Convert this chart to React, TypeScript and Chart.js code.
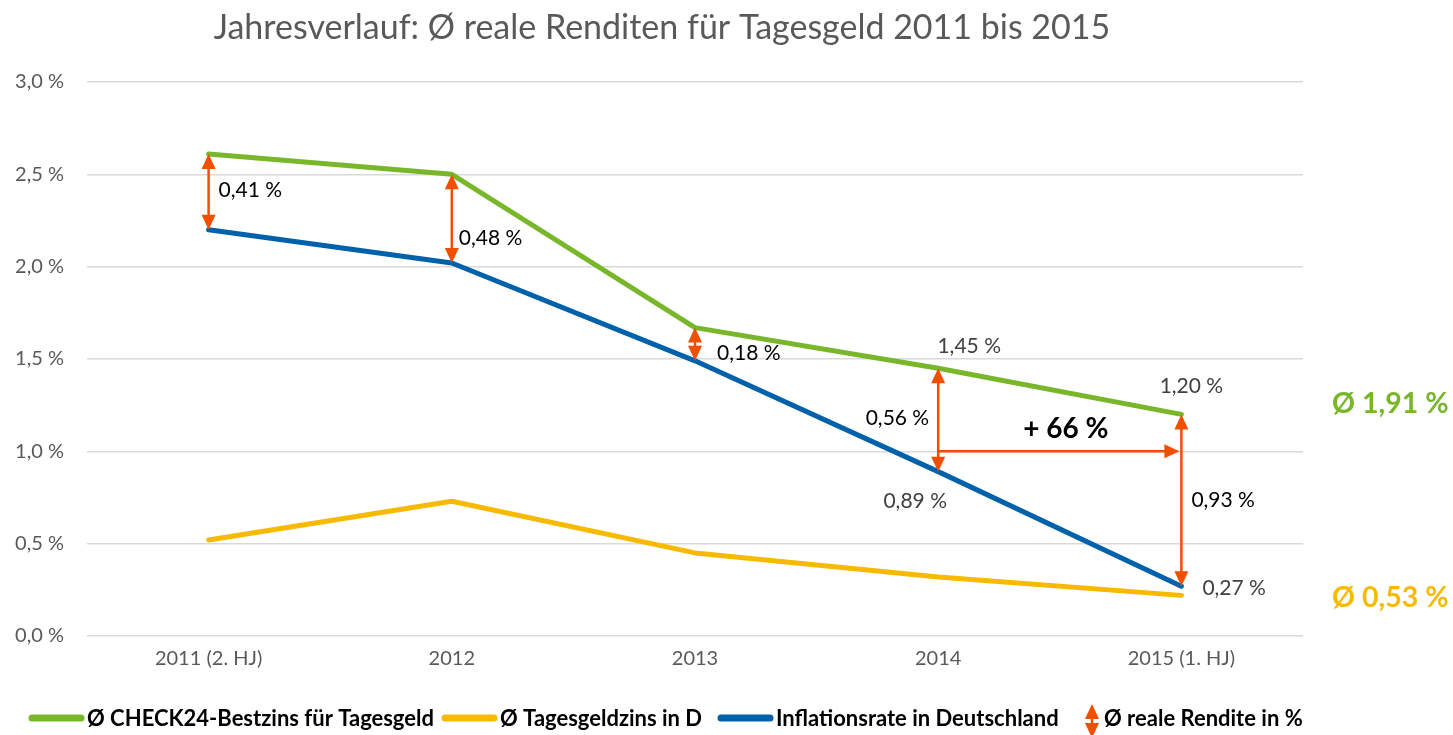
import React, { useEffect, useRef } from "react";
import { Chart, registerables } from "chart.js";

Chart.register(...registerables);

// ---------- data ----------
const categories = ["2011 (2. HJ)", "2012", "2013", "2014", "2015 (1. HJ)"];
const bestzins = [2.61, 2.5, 1.67, 1.45, 1.2];
const tagesgeldzins = [0.52, 0.73, 0.45, 0.32, 0.22];
const inflation = [2.2, 2.02, 1.49, 0.89, 0.27];
const realeRendite = ["0,41 %", "0,48 %", "0,18 %", "0,56 %", "0,93 %"];
const bestzinsLabels = ["", "", "", "1,45 %", "1,20 %"];
const inflationLabels = ["", "", "", "0,89 %", "0,27 %"];
const seriesNames = [
  "Ø CHECK24-Bestzins für Tagesgeld",
  "Ø Tagesgeldzins in D",
  "Inflationsrate in Deutschland",
];
const renditeName = "Ø reale Rendite in %";
const avgBestzins = "Ø 1,91 %";
const avgTagesgeld = "Ø 0,53 %";
const growthLabel = "+ 66 %";
const growthLevel = 1.0;
const growthFromIndex = 3;
const growthToIndex = 4;
const titleText = "Jahresverlauf: Ø reale Renditen für Tagesgeld 2011 bis 2015";
const yMin = 0;
const yMax = 3;
const yStep = 0.5;

// ---------- styles ----------
const GREEN = "#78B72A";
const YELLOW = "#F7BA00";
const BLUE = "#0061AB";
const ORANGE = "#F24E00";
const GRAY_TEXT = "#595959";
const DARK_TEXT = "#404040";
const FONT = "Lato, 'Open Sans', sans-serif";

// label placements for arrows: [dx, dy, align]
const ARROW_LABEL_POS: [number, number, CanvasTextAlign][] = [
  [10, -2, "left"],
  [7, 20, "left"],
  [22, 9, "left"],
  [-9, -2, "right"],
  [10, 0, "left"],
];
// legend layout (x of each line start, and x of the arrow symbol)
const LEGEND_LINE_X = [29, 442, 718];
const LEGEND_ARROW_X = 1092;

function arrowHead(ctx: CanvasRenderingContext2D, tx: number, ty: number, ux: number, uy: number) {
  const L = 15;
  const W = 7;
  const bx = tx - ux * L;
  const by = ty - uy * L;
  const px = -uy;
  const py = ux;
  ctx.beginPath();
  ctx.moveTo(tx, ty);
  ctx.lineTo(bx + px * W, by + py * W);
  ctx.lineTo(bx - px * W, by - py * W);
  ctx.closePath();
  ctx.fill();
}

function drawArrow(
  ctx: CanvasRenderingContext2D,
  x1: number,
  y1: number,
  x2: number,
  y2: number,
  startHead: boolean,
  endHead: boolean
) {
  const dx = x2 - x1;
  const dy = y2 - y1;
  const len = Math.hypot(dx, dy) || 1;
  const ux = dx / len;
  const uy = dy / len;
  const L = 13;
  ctx.strokeStyle = ORANGE;
  ctx.fillStyle = ORANGE;
  ctx.lineWidth = 2.5;
  const sx = startHead ? x1 + ux * L : x1;
  const sy = startHead ? y1 + uy * L : y1;
  const ex = endHead ? x2 - ux * L : x2;
  const ey = endHead ? y2 - uy * L : y2;
  ctx.beginPath();
  ctx.moveTo(sx, sy);
  ctx.lineTo(ex, ey);
  ctx.stroke();
  if (startHead) arrowHead(ctx, x1, y1, -ux, -uy);
  if (endHead) arrowHead(ctx, x2, y2, ux, uy);
}

const overlayPlugin = {
  id: "overlay",
  afterDatasetsDraw(chart: any) {
    const ctx: CanvasRenderingContext2D = chart.ctx;
    const xs = chart.scales.x;
    const ys = chart.scales.y;
    ctx.save();

    // vertical arrows between Bestzins and Inflation
    categories.forEach((_, i) => {
      const x = xs.getPixelForValue(i);
      const yTop = ys.getPixelForValue(bestzins[i]);
      const yBot = ys.getPixelForValue(inflation[i]);
      drawArrow(ctx, x, yTop, x, yBot, true, true);
      const [dx, dy, align] = ARROW_LABEL_POS[i];
      ctx.fillStyle = "#000";
      ctx.font = `21px ${FONT}`;
      ctx.textAlign = align;
      ctx.textBaseline = "middle";
      ctx.fillText(realeRendite[i], x + dx, (yTop + yBot) / 2 + dy);
    });

    // horizontal growth arrow
    const xa = xs.getPixelForValue(growthFromIndex);
    const xb = xs.getPixelForValue(growthToIndex);
    const yh = ys.getPixelForValue(growthLevel);
    drawArrow(ctx, xa, yh, xb - 2, yh, false, true);
    ctx.fillStyle = "#000";
    ctx.font = `bold 28px ${FONT}`;
    ctx.textAlign = "center";
    ctx.textBaseline = "middle";
    ctx.fillText(growthLabel, (xa + xb) / 2 + 6, yh - 22);

    // data labels
    ctx.fillStyle = DARK_TEXT;
    ctx.font = `21px ${FONT}`;
    bestzinsLabels.forEach((t, i) => {
      if (!t) return;
      const x = xs.getPixelForValue(i);
      const y = ys.getPixelForValue(bestzins[i]);
      ctx.textAlign = "center";
      ctx.fillText(t, x + (i === 3 ? 31 : 10), y - (i === 3 ? 22 : 28));
    });
    inflationLabels.forEach((t, i) => {
      if (!t) return;
      const x = xs.getPixelForValue(i);
      const y = ys.getPixelForValue(inflation[i]);
      if (i === 4) {
        ctx.textAlign = "left";
        ctx.fillText(t, x + 21, y + 2);
      } else {
        ctx.textAlign = "center";
        ctx.fillText(t, x - 23, y + 30);
      }
    });

    // averages on the right
    ctx.font = `bold 28.5px ${FONT}`;
    ctx.textAlign = "left";
    ctx.fillStyle = GREEN;
    ctx.fillText(avgBestzins, 1332, 404);
    ctx.fillStyle = YELLOW;
    ctx.fillText(avgTagesgeld, 1332, 598);

    // title
    ctx.fillStyle = GRAY_TEXT;
    ctx.font = `34px ${FONT}`;
    ctx.textAlign = "center";
    ctx.fillText(titleText, 662, 28);

    // legend
    ctx.font = `bold 22px ${FONT}`;
    ctx.textBaseline = "middle";
    ctx.textAlign = "left";
    const ly = 718;
    const colors = [GREEN, YELLOW, BLUE];
    seriesNames.forEach((name, i) => {
      const lx = LEGEND_LINE_X[i];
      ctx.strokeStyle = colors[i];
      ctx.lineWidth = 7;
      ctx.lineCap = "round";
      ctx.beginPath();
      ctx.moveTo(lx + 3, ly);
      ctx.lineTo(lx + 52, ly);
      ctx.stroke();
      ctx.fillStyle = "#000";
      ctx.fillText(name, lx + 58, ly + 1);
    });
    ctx.lineCap = "butt";
    drawArrow(ctx, LEGEND_ARROW_X, 704, LEGEND_ARROW_X, 738, true, true);
    ctx.fillStyle = "#000";
    ctx.font = `bold 22px ${FONT}`;
    ctx.textAlign = "left";
    ctx.fillText(renditeName, LEGEND_ARROW_X + 12, ly + 1);

    ctx.restore();
  },
};

export default function App() {
  const canvasRef = useRef<HTMLCanvasElement | null>(null);

  useEffect(() => {
    document.body.style.margin = "0";
    const canvas = canvasRef.current;
    if (!canvas) return;
    const chart = new Chart(canvas, {
      type: "line",
      data: {
        labels: categories,
        datasets: [
          {
            label: seriesNames[2],
            data: inflation,
            borderColor: BLUE,
            borderWidth: 5,
            pointRadius: 0,
            tension: 0,
            borderCapStyle: "round",
            borderJoinStyle: "round",
          },
          {
            label: seriesNames[1],
            data: tagesgeldzins,
            borderColor: YELLOW,
            borderWidth: 5,
            pointRadius: 0,
            tension: 0,
            borderCapStyle: "round",
            borderJoinStyle: "round",
          },
          {
            label: seriesNames[0],
            data: bestzins,
            borderColor: GREEN,
            borderWidth: 5,
            pointRadius: 0,
            tension: 0,
            borderCapStyle: "round",
            borderJoinStyle: "round",
          },
        ],
      },
      options: {
        responsive: false,
        animation: false,
        devicePixelRatio: 1,
        layout: { padding: { top: 82, right: 150, bottom: 0, left: 0 } },
        plugins: {
          legend: { display: false },
          title: { display: false },
          tooltip: { enabled: false },
        },
        scales: {
          x: {
            type: "category",
            offset: true,
            grid: { display: false, drawTicks: false },
            border: { display: false },
            ticks: {
              color: GRAY_TEXT,
              font: { family: FONT, size: 20 },
              padding: 11,
              maxRotation: 0,
            },
            afterFit: (scale: any) => {
              scale.height = 99;
            },
          },
          y: {
            min: yMin,
            max: yMax,
            grid: { color: "#D9D9D9", lineWidth: 1.5, drawTicks: false },
            border: { display: false },
            ticks: {
              stepSize: yStep,
              color: GRAY_TEXT,
              font: { family: FONT, size: 20 },
              padding: 23,
              callback: (v: any) => Number(v).toFixed(1).replace(".", ",") + " %",
            },
            afterFit: (scale: any) => {
              scale.width = 87;
            },
          },
        },
      },
      plugins: [overlayPlugin],
    });
    return () => chart.destroy();
  }, []);

  return (
    <canvas
      ref={canvasRef}
      width={1453}
      height={735}
      style={{ display: "block", width: 1453, height: 735 }}
    />
  );
}
